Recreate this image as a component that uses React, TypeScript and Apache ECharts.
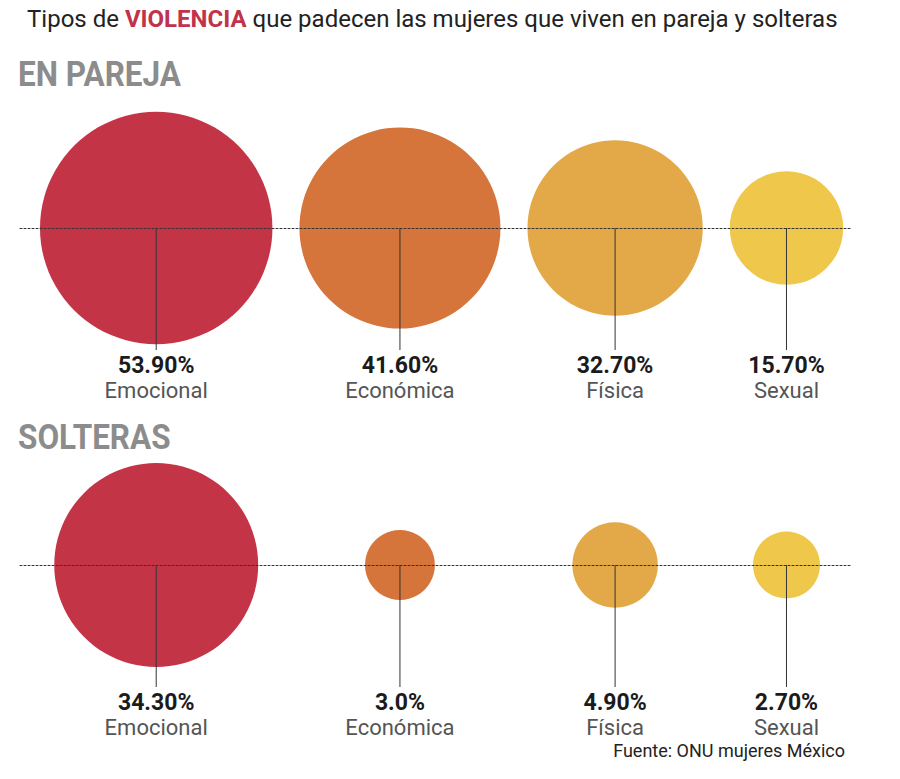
import React, { useEffect, useRef } from "react";
import * as echarts from "echarts";

const categories = ["Emocional", "Económica", "Física", "Sexual"];
const parejaValues = [53.9, 41.6, 32.7, 15.7];
const solterasValues = [34.3, 3.0, 4.9, 2.7];
const parejaLabels = ["53.90%", "41.60%", "32.70%", "15.70%"];
const solterasLabels = ["34.30%", "3.0%", "4.90%", "2.70%"];
const panelTitles = ["EN PAREJA", "SOLTERAS"];

const colors = ["#c43447", "#d5753b", "#e3a948", "#efc74b"];
const FONT = "Roboto, 'Noto Sans', sans-serif";

// diameter scale (px) per panel: d = a + b * sqrt(value)
const sizeScale = [
  { a: -26, b: 35.2 },
  { a: 13.6, b: 32.5 },
];
const diam = (panel: number, v: number) => sizeScale[panel].a + sizeScale[panel].b * Math.sqrt(v);

// pack layout of centres along the axis (axis units = px), from the top panel's bubble sizes
const X_MIN = 20;
const X_MAX = 852;
const START = 40;
const GAP = 27;
const centers: number[] = [];
parejaValues.forEach((v, i) => {
  const r = diam(0, v) / 2;
  if (i === 0) centers.push(START + r);
  else centers.push(centers[i - 1] + diam(0, parejaValues[i - 1]) / 2 + GAP + r);
});

function makeSeries(panel: number, values: number[], labels: string[]) {
  return {
    type: "custom",
    xAxisIndex: panel,
    yAxisIndex: panel,
    encode: { x: 0, y: 2 },
    data: values.map((v, i) => [centers[i], v, 0]),
    renderItem: (params: any, api: any) => {
      const idx = params.dataIndex;
      const xv = api.value(0);
      const v = api.value(1);
      const [cx, cy] = api.coord([xv, 0]);
      const r = diam(panel, v) / 2;
      return {
        type: "group",
        children: [
          { type: "circle", shape: { cx, cy, r }, style: { fill: colors[idx] } },
          {
            type: "line",
            z2: 10,
            shape: { x1: cx, y1: cy, x2: cx, y2: cy + 122 },
            style: { stroke: "#333", lineWidth: 1 },
          },
          {
            type: "text",
            x: cx,
            y: cy + 137,
            style: {
              text: labels[idx],
              font: `bold 23px ${FONT}`,
              fill: "#1b1b1b",
              align: "center",
              verticalAlign: "middle",
            },
          },
          {
            type: "text",
            x: cx,
            y: cy + 162,
            style: {
              text: categories[idx],
              font: `22px ${FONT}`,
              fill: "#555555",
              align: "center",
              verticalAlign: "middle",
            },
          },
        ],
      };
    },
  };
}

export default function App() {
  const ref = useRef<HTMLDivElement>(null);
  useEffect(() => {
    if (!ref.current) return;
    const chart = echarts.init(ref.current, null, { renderer: "svg" });
    const gridTops = [128, 465];
    const option: any = {
      animation: false,
      backgroundColor: "#ffffff",
      grid: gridTops.map((t) => ({ left: X_MIN, right: 900 - X_MAX, top: t, height: 200 })),
      xAxis: gridTops.map((_, i) => ({
        type: "value",
        gridIndex: i,
        min: X_MIN,
        max: X_MAX,
        z: 10,
        axisLine: { show: true, onZero: true, lineStyle: { color: "#333", width: 1, type: [2, 2] } },
        axisTick: { show: false },
        axisLabel: { show: false },
        splitLine: { show: false },
      })),
      yAxis: gridTops.map((_, i) => ({
        type: "value",
        gridIndex: i,
        min: -1,
        max: 1,
        show: false,
        splitLine: { show: false },
      })),
      series: [makeSeries(0, parejaValues, parejaLabels), makeSeries(1, solterasValues, solterasLabels)],
      graphic: [
        {
          type: "text",
          left: 27,
          top: 7,
          style: {
            text: "{a|Tipos de }{b|VIOLENCIA}{a| que padecen las mujeres que viven en pareja y solteras}",
            rich: {
              a: { font: `24px ${FONT}`, fill: "#222222" },
              b: { font: `bold 24px ${FONT}`, fill: "#c0334a" },
            },
          },
        },
        {
          type: "text",
          left: 18,
          top: 56,
          scaleX: 0.9,
          style: { text: panelTitles[0], font: `bold 35px ${FONT}`, fill: "#8c8c8c" },
        },
        {
          type: "text",
          left: 18,
          top: 419,
          scaleX: 0.9,
          style: { text: panelTitles[1], font: `bold 35px ${FONT}`, fill: "#8c8c8c" },
        },
        {
          type: "text",
          right: 55,
          top: 741,
          style: { text: "Fuente: ONU mujeres México", font: `18px ${FONT}`, fill: "#222222" },
        },
      ],
    };
    chart.setOption(option);
    return () => chart.dispose();
  }, []);
  return <div ref={ref} style={{ position: "absolute", left: 0, top: 0, width: 900, height: 779 }} />;
}
